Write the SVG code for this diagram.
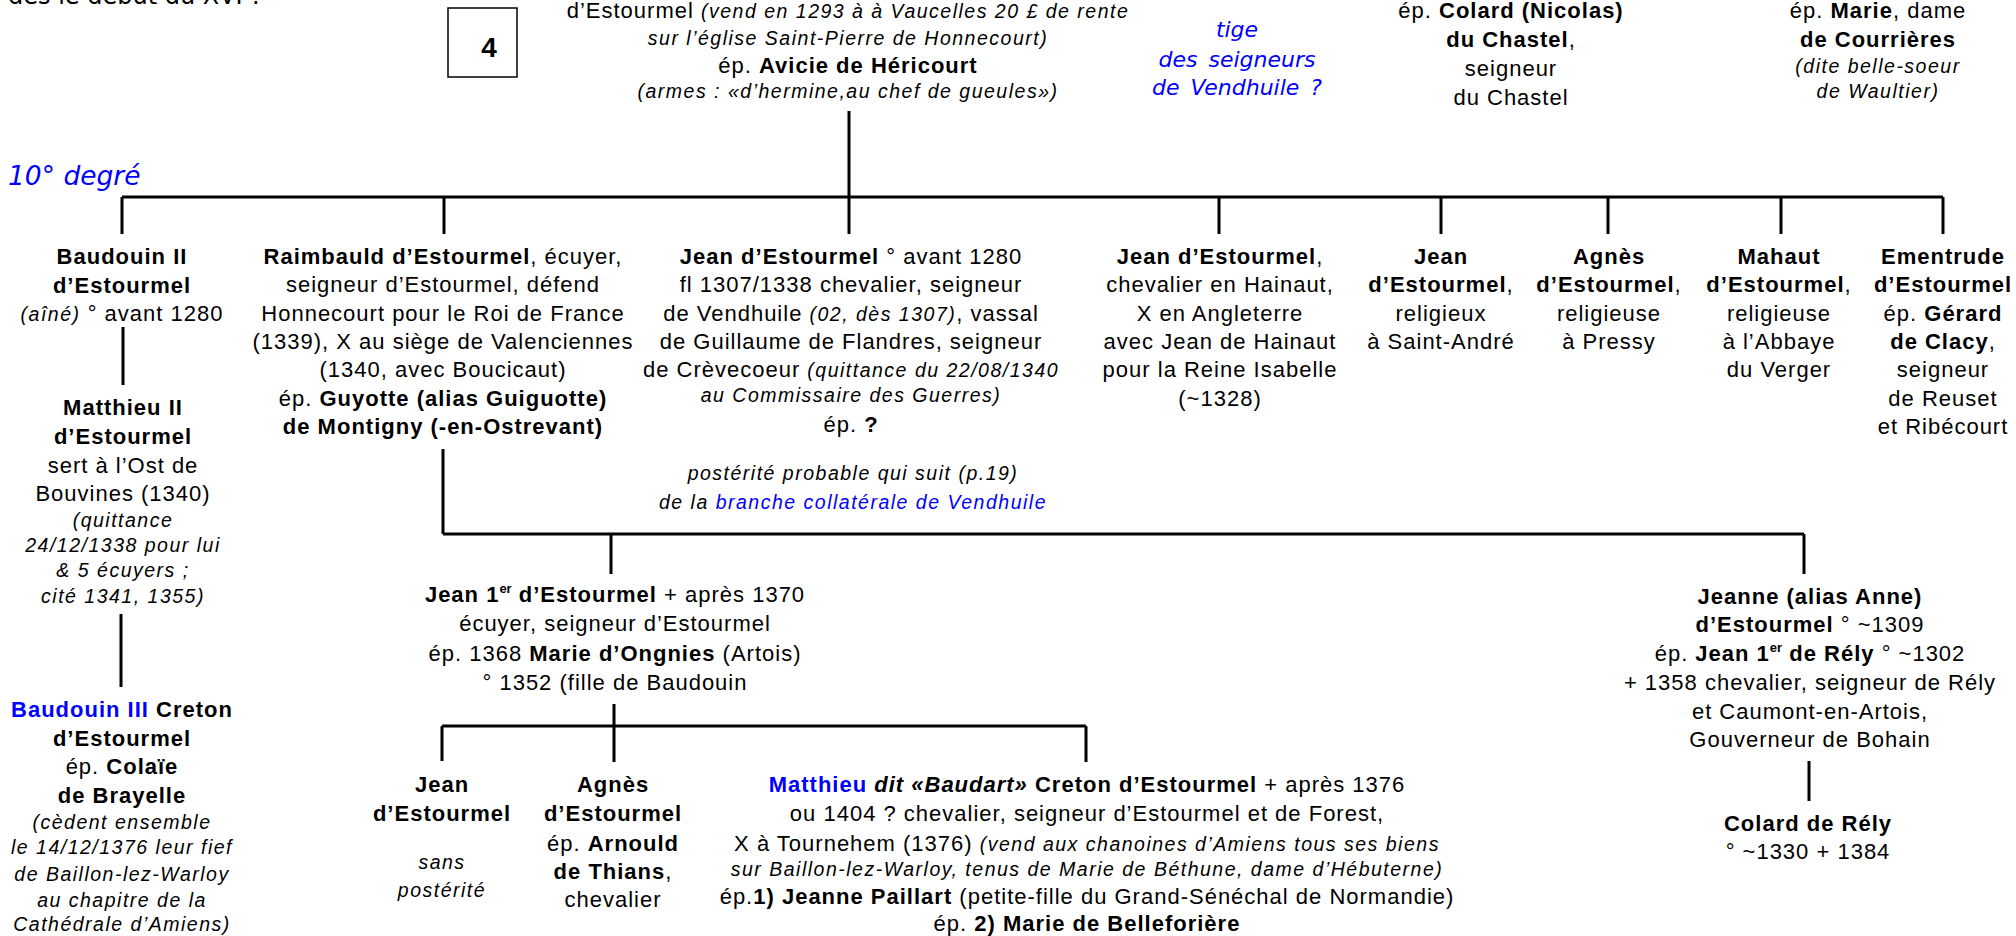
<svg xmlns="http://www.w3.org/2000/svg" width="2016" height="936" viewBox="0 0 2016 936">
<style>
text{font-family:"Liberation Sans",Arial,sans-serif;font-size:22px;letter-spacing:1px;fill:#000;text-anchor:middle}
.b{font-weight:bold}
.i{font-style:italic;font-size:19.5px;letter-spacing:1.5px}
.bi{font-style:italic;font-weight:bold}
.bl{fill:#0000ff}
.v{font-family:"DejaVu Sans",Verdana,sans-serif;letter-spacing:0}
.sup{font-size:13px;letter-spacing:0}
.conn path{fill:none;stroke:#000;stroke-width:3}
</style>
<rect width="2016" height="936" fill="#fff"/>
<text class="v" x="8" y="4" style="text-anchor:start;font-size:24px">dès le début du XVI<tspan font-size="15" dy="-10">e</tspan><tspan dy="10">.</tspan></text>
<text class="v bl" x="8" y="185" style="text-anchor:start;font-size:26.5px;font-style:italic">10° degré</text>
<g id="box4"><rect x="448" y="8" width="69" height="69" fill="none" stroke="#000" stroke-width="1.5"/><text class="b" x="489" y="57" style="font-size:28px;letter-spacing:0">4</text></g>
<g id="tige"><g class="v bl" style="font-style:italic;font-size:22px;word-spacing:4px">
<text class="v bl" x="1237" y="37" style="font-style:italic;font-size:22px;word-spacing:4px">tige</text>
<text class="v bl" x="1237" y="67" style="font-style:italic;font-size:22px;word-spacing:4px">des seigneurs</text>
<text class="v bl" x="1237" y="95" style="font-style:italic;font-size:22px;word-spacing:4px">de Vendhuile ?</text></g></g>
<g class="conn" id="connectors">
<path d="M849,111V234M122,197H1943M122,197V234M444,197V234M1219,197V234M1441,197V234M1608,197V234M1781,197V234M1943,197V234"/>
<path d="M123,327V385M121,614V687"/>
<path d="M443,449V534M443,534H1804M611,534V574M1804,534V574"/>
<path d="M614,704V762M442,726H1086M442,726V761M1086,726V762"/>
<path d="M1809,761V801"/>
</g>
<g id="parent">
<text x="848" y="18">d’Estourmel <tspan class="i">(vend en 1293 à à Vaucelles 20 £ de rente</tspan></text>
<text class="i" x="848" y="45">sur l’église Saint-Pierre de Honnecourt)</text>
<text x="848" y="73">ép. <tspan class="b">Avicie de Héricourt</tspan></text>
<text class="i" x="848" y="98">(armes : «d’hermine,au chef de gueules»)</text>
</g>
<g id="colard-chastel">
<text x="1511" y="18">ép. <tspan class="b">Colard (Nicolas)</tspan></text>
<text x="1511" y="47"><tspan class="b">du Chastel</tspan>,</text>
<text x="1511" y="76">seigneur</text>
<text x="1511" y="105">du Chastel</text>
</g>
<g id="marie-courrieres">
<text x="1878" y="18">ép. <tspan class="b">Marie</tspan>, dame</text>
<text class="b" x="1878" y="47">de Courrières</text>
<text class="i" x="1878" y="73">(dite belle-soeur</text>
<text class="i" x="1878" y="98">de Waultier)</text>
</g>
<g id="baudouin2">
<text class="b" x="122" y="264">Baudouin II</text>
<text class="b" x="122" y="293">d’Estourmel</text>
<text x="122" y="321"><tspan class="i">(aîné)</tspan> ° avant 1280</text>
</g>
<g id="matthieu2">
<text class="b" x="123" y="415">Matthieu II</text>
<text class="b" x="123" y="444">d’Estourmel</text>
<text x="123" y="473">sert à l’Ost de</text>
<text x="123" y="501">Bouvines (1340)</text>
<text class="i" x="123" y="527">(quittance</text>
<text class="i" x="123" y="552">24/12/1338 pour lui</text>
<text class="i" x="123" y="577">&amp; 5 écuyers ;</text>
<text class="i" x="123" y="603">cité 1341, 1355)</text>
</g>
<g id="baudouin3">
<text class="b" x="122" y="717"><tspan class="bl">Baudouin III</tspan> Creton</text>
<text class="b" x="122" y="746">d’Estourmel</text>
<text x="122" y="774">ép. <tspan class="b">Colaïe</tspan></text>
<text class="b" x="122" y="803">de Brayelle</text>
<text class="i" x="122" y="829">(cèdent ensemble</text>
<text class="i" x="122" y="854">le 14/12/1376 leur fief</text>
<text class="i" x="122" y="881">de Baillon-lez-Warloy</text>
<text class="i" x="122" y="907">au chapitre de la</text>
<text class="i" x="122" y="931">Cathédrale d’Amiens)</text>
</g>
<g id="raimbauld">
<text x="443" y="264"><tspan class="b">Raimbauld d’Estourmel</tspan>, écuyer,</text>
<text x="443" y="292">seigneur d’Estourmel, défend</text>
<text x="443" y="321">Honnecourt pour le Roi de France</text>
<text x="443" y="349">(1339), X au siège de Valenciennes</text>
<text x="443" y="377">(1340, avec Boucicaut)</text>
<text x="443" y="406">ép. <tspan class="b">Guyotte (alias Guiguotte)</tspan></text>
<text class="b" x="443" y="434">de Montigny (-en-Ostrevant)</text>
</g>
<g id="jean-vendhuile">
<text x="851" y="264"><tspan class="b">Jean d’Estourmel</tspan> ° avant 1280</text>
<text x="851" y="292">fl 1307/1338 chevalier, seigneur</text>
<text x="851" y="321">de Vendhuile <tspan class="i">(02, dès 1307)</tspan>, vassal</text>
<text x="851" y="349">de Guillaume de Flandres, seigneur</text>
<text x="851" y="377">de Crèvecoeur <tspan class="i">(quittance du 22/08/1340</tspan></text>
<text class="i" x="851" y="402">au Commissaire des Guerres)</text>
<text x="851" y="432">ép. <tspan class="b">?</tspan></text>
<text class="i" x="853" y="480">postérité probable qui suit (p.19)</text>
<text class="i" x="853" y="509">de la <tspan class="bl">branche collatérale de Vendhuile</tspan></text>
</g>
<g id="jean-hainaut">
<text x="1220" y="264"><tspan class="b">Jean d’Estourmel</tspan>,</text>
<text x="1220" y="292">chevalier en Hainaut,</text>
<text x="1220" y="321">X en Angleterre</text>
<text x="1220" y="349">avec Jean de Hainaut</text>
<text x="1220" y="377">pour la Reine Isabelle</text>
<text x="1220" y="406">(~1328)</text>
</g>
<g id="jean-religieux">
<text class="b" x="1441" y="264">Jean</text>
<text x="1441" y="292"><tspan class="b">d’Estourmel</tspan>,</text>
<text x="1441" y="321">religieux</text>
<text x="1441" y="349">à Saint-André</text>
</g>
<g id="agnes-pressy">
<text class="b" x="1609" y="264">Agnès</text>
<text x="1609" y="292"><tspan class="b">d’Estourmel</tspan>,</text>
<text x="1609" y="321">religieuse</text>
<text x="1609" y="349">à Pressy</text>
</g>
<g id="mahaut">
<text class="b" x="1779" y="264">Mahaut</text>
<text x="1779" y="292"><tspan class="b">d’Estourmel</tspan>,</text>
<text x="1779" y="321">religieuse</text>
<text x="1779" y="349">à l’Abbaye</text>
<text x="1779" y="377">du Verger</text>
</g>
<g id="ementrude">
<text class="b" x="1943" y="264">Ementrude</text>
<text class="b" x="1943" y="292">d’Estourmel</text>
<text x="1943" y="321">ép. <tspan class="b">Gérard</tspan></text>
<text x="1943" y="349"><tspan class="b">de Clacy</tspan>,</text>
<text x="1943" y="377">seigneur</text>
<text x="1943" y="406">de Reuset</text>
<text x="1943" y="434">et Ribécourt</text>
</g>
<g id="jean1er">
<text x="615" y="602"><tspan class="b">Jean 1</tspan><tspan class="b sup" dy="-9">er</tspan><tspan class="b" dy="9"> d’Estourmel</tspan> + après 1370</text>
<text x="615" y="631">écuyer, seigneur d’Estourmel</text>
<text x="615" y="661">ép. 1368 <tspan class="b">Marie d’Ongnies</tspan> (Artois)</text>
<text x="615" y="690">° 1352 (fille de Baudouin</text>
</g>
<g id="jeanne">
<text class="b" x="1810" y="604">Jeanne (alias Anne)</text>
<text x="1810" y="632"><tspan class="b">d’Estourmel</tspan> ° ~1309</text>
<text x="1810" y="661">ép. <tspan class="b">Jean 1</tspan><tspan class="b sup" dy="-9">er</tspan><tspan class="b" dy="9"> de Rély</tspan> ° ~1302</text>
<text x="1810" y="690">+ 1358 chevalier, seigneur de Rély</text>
<text x="1810" y="719">et Caumont-en-Artois,</text>
<text x="1810" y="747">Gouverneur de Bohain</text>
</g>
<g id="colard-rely">
<text class="b" x="1808" y="831">Colard de Rély</text>
<text x="1808" y="859">° ~1330 + 1384</text>
</g>
<g id="jean-sans">
<text class="b" x="442" y="792">Jean</text>
<text class="b" x="442" y="821">d’Estourmel</text>
<text class="i" x="442" y="869">sans</text>
<text class="i" x="442" y="897">postérité</text>
</g>
<g id="agnes-thians">
<text class="b" x="613" y="792">Agnès</text>
<text class="b" x="613" y="821">d’Estourmel</text>
<text x="613" y="851">ép. <tspan class="b">Arnould</tspan></text>
<text x="613" y="879"><tspan class="b">de Thians</tspan>,</text>
<text x="613" y="907">chevalier</text>
</g>
<g id="matthieu-baudart">
<text x="1087" y="792"><tspan class="b bl">Matthieu</tspan><tspan class="bi"> dit «Baudart»</tspan><tspan class="b"> Creton d’Estourmel</tspan> + après 1376</text>
<text x="1087" y="821">ou 1404 ? chevalier, seigneur d’Estourmel et de Forest,</text>
<text x="1087" y="851">X à Tournehem (1376) <tspan class="i">(vend aux chanoines d’Amiens tous ses biens</tspan></text>
<text class="i" x="1087" y="876">sur Baillon-lez-Warloy, tenus de Marie de Béthune, dame d’Hébuterne)</text>
<text x="1087" y="904">ép.<tspan class="b">1) Jeanne Paillart</tspan> (petite-fille du Grand-Sénéchal de Normandie)</text>
<text x="1087" y="931">ép. <tspan class="b">2) Marie de Belleforière</tspan></text>
</g>
</svg>
